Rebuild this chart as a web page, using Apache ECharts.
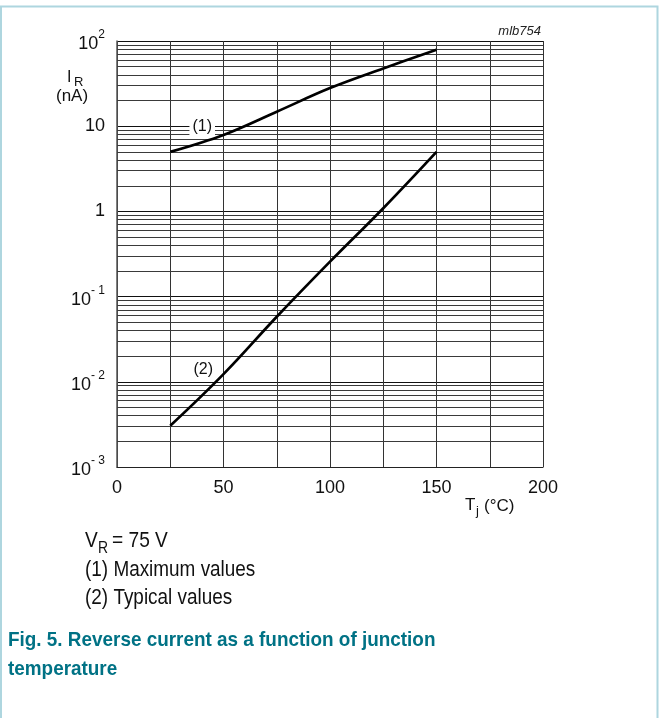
<!DOCTYPE html>
<html>
<head>
<meta charset="utf-8">
<script src="https://cdn.jsdelivr.net/npm/echarts@6/dist/echarts.min.js"></script>
<style>
html,body{margin:0;padding:0;background:#fff;overflow:hidden;}
#chart{width:662px;height:718px;}
</style>
</head>
<body>
<div id="chart"></div>
<script>
// ---- data ----
const tempC = [25, 50, 75, 100, 125, 150];
const maxIR = [5.0, 7.9, 14.8, 28, 47.6, 79];
const typIR = [0.00305, 0.0123, 0.058, 0.257, 1.09, 5.0];
const xTickLabels = ['0', '50', '100', '150', '200'];
const yTickExps = [-3, -2, -1, 0, 1, 2];
const yTickBase = ['10', '10', '10', '1', '10', '10'];
const yTickSup = ['- 3', '- 2', '- 1', '', '', '2'];
const minorMultipliers = [2, 3, 4, 5, 6, 7, 8, 9];
const minorDecades = [0.001, 0.01, 0.1, 1, 10];
const curveLabels = ['(1)', '(2)'];
const curveLabelAt = [[40, 9.8], [40.5, 0.0138]];
const noteLines = ['(1) Maximum values', '(2) Typical values'];
const captionLines = ['Fig. 5. Reverse current as a function of junction', 'temperature'];

const minorValues = [];
minorDecades.forEach(d => minorMultipliers.forEach(m => minorValues.push(m * d)));

const FONT = 'Liberation Sans, Arial, sans-serif';
const chart = echarts.init(document.getElementById('chart'), null, {renderer: 'canvas'});

function yLabel(v) {
  const e = Math.round(Math.log10(v));
  const i = yTickExps.indexOf(e);
  if (i < 0) return '';
  if (yTickSup[i]) return '{b|' + yTickBase[i] + '}{s|' + yTickSup[i] + '}';
  return '{n|' + yTickBase[i] + '}';
}

function txt(x, y, text, font, opts) {
  opts = opts || {};
  return {
    type: 'text', x: x, y: y, scaleX: opts.scaleX || 1, originX: 0, originY: 0, silent: true,
    style: {text: text, font: font, fill: opts.fill || '#111', align: opts.align || 'left', verticalAlign: 'middle'}
  };
}

const option = {
  animation: false,
  backgroundColor: '#fff',
  grid: {left: 117, top: 41, width: 426, height: 426, show: false},
  xAxis: {
    type: 'value', min: 0, max: 200, interval: 25,
    axisLine: {show: true, lineStyle: {color: '#222', width: 1.2}},
    axisTick: {show: false},
    splitLine: {show: true, lineStyle: {color: '#333', width: 1}},
    axisLabel: {
      margin: 12, fontSize: 18, color: '#111', fontFamily: FONT,
      formatter: v => (v % 50 === 0 ? xTickLabels[v / 50] : '')
    }
  },
  yAxis: {
    type: 'log', logBase: 10, min: 0.001, max: 100,
    axisLine: {show: true, lineStyle: {color: '#555', width: 1.5}},
    axisTick: {show: false},
    splitLine: {show: true, lineStyle: {color: '#111', width: 1}},
    axisLabel: {
      margin: 12, color: '#111', fontFamily: FONT,
      formatter: yLabel,
      rich: {
        n: {fontSize: 18, fontFamily: FONT, color: '#111', lineHeight: 18},
        b: {fontSize: 18, fontFamily: FONT, color: '#111', lineHeight: 18, verticalAlign: 'bottom'},
        s: {fontSize: 12, fontFamily: FONT, color: '#111', lineHeight: 24, verticalAlign: 'top'}
      }
    }
  },
  series: [
    {
      type: 'lines', coordinateSystem: 'cartesian2d', silent: true, z: 1,
      lineStyle: {color: '#3a3a3a', width: 1, opacity: 1},
      data: minorValues.map(v => ({coords: [[0, v], [200, v]]}))
    },
    {
      type: 'line', name: 'max', data: tempC.map((t, i) => [t, maxIR[i]]),
      smooth: 0.35, symbol: 'none',
      lineStyle: {color: '#000', width: 2.7},
      z: 5,
      markPoint: {
        symbol: 'rect', symbolSize: 0, silent: true,
        label: {
          show: true, position: 'inside', formatter: curveLabels[0],
          fontSize: 16, fontFamily: FONT, color: '#111',
          backgroundColor: '#fff', padding: [2, 3, 1, 3]
        },
        data: [{coord: curveLabelAt[0]}]
      }
    },
    {
      type: 'line', name: 'typ', data: tempC.map((t, i) => [t, typIR[i]]),
      smooth: 0.4, symbol: 'none',
      lineStyle: {color: '#000', width: 2.7},
      z: 5,
      markPoint: {
        symbol: 'rect', symbolSize: 0, silent: true,
        label: {
          show: true, position: 'inside', formatter: curveLabels[1],
          fontSize: 16, fontFamily: FONT, color: '#111'
        },
        data: [{coord: curveLabelAt[1]}]
      }
    }
  ],
  graphic: [
    {type: 'rect', shape: {x: 1, y: 6.5, width: 656.5, height: 800}, style: {fill: 'none', stroke: '#aed6df', lineWidth: 2}, silent: true},
    txt(541, 31, 'mlb754', 'italic 13px ' + FONT, {align: 'right', fill: '#222'}),
    txt(67, 78, 'I', '16px ' + FONT),
    txt(74, 82, 'R', '13px ' + FONT),
    txt(56, 96, '(nA)', '17px ' + FONT),
    txt(465, 505, 'T', '17px ' + FONT),
    txt(476, 511, 'j', '13px ' + FONT),
    txt(484, 506, '(°C)', '17px ' + FONT),
    txt(85, 541, 'V', '22px ' + FONT, {scaleX: 0.87}),
    txt(98, 549, 'R', '16px ' + FONT, {scaleX: 0.87}),
    txt(112, 541, '= 75 V', '22px ' + FONT, {scaleX: 0.87}),
    txt(85, 569.5, noteLines[0], '22px ' + FONT, {scaleX: 0.86}),
    txt(85, 598, noteLines[1], '22px ' + FONT, {scaleX: 0.86}),
    txt(8, 640.5, captionLines[0], 'bold 21px ' + FONT, {scaleX: 0.9, fill: '#007285'}),
    txt(8, 669.5, captionLines[1], 'bold 21px ' + FONT, {scaleX: 0.9, fill: '#007285'})
  ]
};
chart.setOption(option);
</script>
</body>
</html>
